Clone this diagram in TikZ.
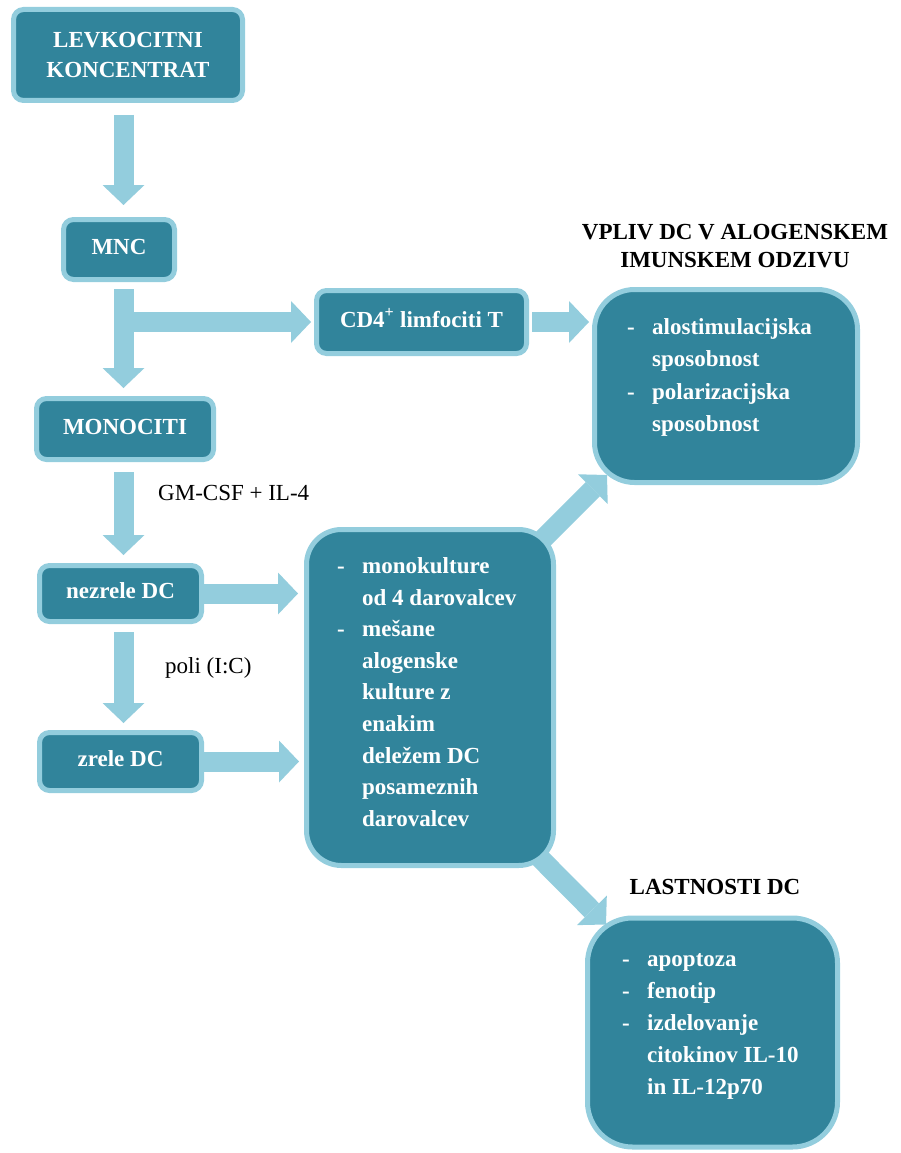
\documentclass[tikz,border=0pt]{standalone}
\usepackage{fontspec}
\setmainfont{Liberation Serif}
\usetikzlibrary{arrows.meta}
\definecolor{boxfill}{HTML}{31849B}
\definecolor{boxline}{HTML}{93CDDD}
\pgfdeclarelayer{bg}
\pgfsetlayers{bg,main}
\begin{document}
\begin{tikzpicture}[x=1pt,y=-1pt,
  box/.style={draw=boxline, fill=boxfill, line width=5pt, rounded corners=10pt, text=white,
    font=\fontsize{23}{30}\selectfont\bfseries, align=center, inner sep=0pt},
  sbox/.style={box, text height=15pt, text depth=5pt},
  bigbox/.style={box, rounded corners=40pt},
  itemtext/.style={text=white, font=\fontsize{23}{#1}\selectfont\bfseries, inner sep=0pt, anchor=west},
  titletext/.style={font=\fontsize{23}{28}\selectfont\bfseries, align=center, inner sep=0pt},
  lbl/.style={font=\fontsize{23}{28}\selectfont, inner sep=0pt, anchor=west},
  blockarr/.style={draw=boxline, line width=20pt, -{Triangle[length=20pt,width=42pt,line width=0pt]}},
]
\useasboundingbox (0,0) rectangle (900,1153);

% boxes
\node[box, minimum width=229pt, minimum height=91pt] (lev) at (128,55) {LEVKOCITNI\\KONCENTRAT};
\node[sbox, minimum width=111pt, minimum height=60pt] (mnc) at (119,249.5) {MNC};
\node[sbox, minimum width=177pt, minimum height=61pt] (mono) at (125,429) {MONOCITI};
\node[sbox, minimum width=162pt, minimum height=56pt] (nez) at (120.5,593.5) {nezrele DC};
\node[sbox, minimum width=162pt, minimum height=58pt] (zre) at (120.5,761.5) {zrele DC};
\node[sbox, minimum width=210pt, minimum height=63pt] (cd4) at (421.5,322) {CD4\textsuperscript{+} limfociti T};
\node[bigbox, rounded corners=35pt, minimum width=247pt, minimum height=336pt] (mid) at (430,697.5) {};
\node[bigbox, minimum width=263pt, minimum height=193pt] (vpl) at (726,386) {};
\node[bigbox, rounded corners=45pt, minimum width=250pt, minimum height=229pt] (las) at (712.5,1032.5) {};

% box texts
\node[itemtext=31.6] (midtxt) at (337,693.5) {\begin{tabular}{@{}p{25pt}@{}l@{}}
-&monokulture\\&od 4 darovalcev\\-&mešane\\&alogenske\\&kulture z\\&enakim\\&deležem DC\\&posameznih\\&darovalcev
\end{tabular}};
\node[itemtext=32.3] (vpltxt) at (627,376.5) {\begin{tabular}{@{}p{25pt}@{}l@{}}
-&alostimulacijska\\&sposobnost\\-&polarizacijska\\&sposobnost
\end{tabular}};
\node[itemtext=32] (lastxt) at (622,1024) {\begin{tabular}{@{}p{25pt}@{}l@{}}
-&apoptoza\\-&fenotip\\-&izdelovanje\\&citokinov IL-10\\&in IL-12p70
\end{tabular}};

% titles and labels
\node[titletext] (vpltitle) at (735,246) {VPLIV DC V ALOGENSKEM\\IMUNSKEM ODZIVU};
\node[titletext] (lastitle) at (715,887) {LASTNOSTI DC};
\node[lbl] (gm) at (158,493) {GM-CSF + IL-4};
\node[lbl] (poli) at (165,668) {poli (I:C)};

% arrows
\coordinate (cx) at (123.5,0);
\begin{pgfonlayer}{bg}
\draw[blockarr, shorten <=12pt, shorten >=12pt] (cx |- lev.south) -- (cx |- mnc.north);
\draw[blockarr, shorten <=7pt, shorten >=8pt] (cx |- mnc.south) -- (cx |- mono.north);
\draw[blockarr, shorten <=10pt, shorten >=8pt] (cx |- mono.south) -- (cx |- nez.north);
\draw[blockarr, shorten <=8pt, shorten >=7pt] (cx |- nez.south) -- (cx |- zre.north);
\draw[blockarr, shorten >=3pt] (cx |- cd4.west) -- (cd4.west);
\draw[blockarr, shorten <=3pt, shorten >=3pt] (cd4.east) -- (cd4.east -| vpl.west);
\draw[blockarr, shorten >=6pt] (nez.east) -- (nez.east -| mid.west);
\draw[blockarr, shorten >=5pt] (zre.east) -- (zre.east -| mid.west);
\draw[blockarr] ([shift={(-24,23)}]mid.north east) -- ([shift={(15,-10)}]vpl.south west);
\draw[blockarr] ([shift={(-25,-19)}]mid.south east) -- ([shift={(21,9)}]las.north west);
\end{pgfonlayer}
\end{tikzpicture}
\end{document}
